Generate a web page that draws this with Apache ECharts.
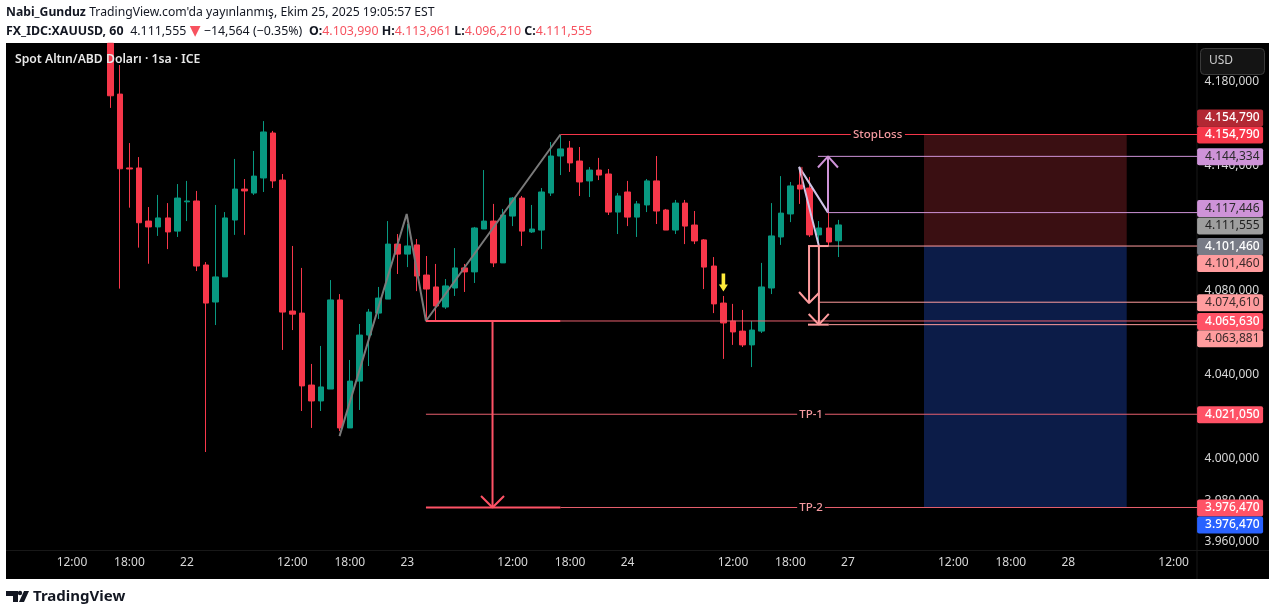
<!DOCTYPE html>
<html><head><meta charset="utf-8">
<style>html,body{margin:0;padding:0;background:#fff}#c{width:1275px;height:615px}</style>
<script src="https://cdn.jsdelivr.net/npm/echarts@6/dist/echarts.min.js"></script>
</head><body><div id="c"></div>
<script>
// ---- data (prices) ----
const leadingEmptyBars = 10;
const totalBars = 124;
const timeTickBars = [6,12,18,29,35,41,52,58,64,75,81,87,98,104,110,121];
const timeTickLabels = ['12:00','18:00','22','12:00','18:00','23','12:00','18:00','24','12:00','18:00','27','12:00','18:00','28','12:00'];
const priceTicks = [4180,4140,4080,4040,4000,3980,3960];
const opens = [4198.4,4174.1,4138.8,4138.8,4113.4,4110.6,4114.9,4108.6,4122.6,4123.0,4092.4,4074.7,4086.7,4113.9,4128.7,4126.8,4134.0,4155.5,4133.0,4070.4,4069.4,4035.0,4027.4,4033.1,4075.7,4014.5,4036.9,4058.9,4069.4,4076.1,4102.4,4097.6,4102.0,4087.6,4081.9,4072.3,4081.4,4091.0,4089.1,4109.6,4113.4,4093.4,4115.8,4124.4,4108.2,4109.1,4126.8,4144.5,4148.3,4142.1,4132.6,4137.8,4135.9,4117.7,4127.3,4115.3,4121.1,4132.6,4118.7,4109.1,4122.0,4111.5,4104.4,4091.9,4074.2,4065.6,4060.8,4054.2,4060.8,4081.4,4105.8,4116.8,4130.6,4129.2,4106.8,4110.1,4103.99];
const closes = [4173.3,4138.4,4138.3,4112.6,4110.6,4114.9,4108.2,4124.4,4123.0,4091.9,4074.2,4086.7,4114.9,4128.7,4127.8,4134.9,4156.0,4132.6,4069.9,4068.9,4034.6,4027.4,4034.1,4075.7,4014.5,4036.9,4058.9,4069.9,4076.6,4102.4,4097.6,4101.5,4087.1,4080.9,4072.8,4082.4,4091.0,4089.1,4110.1,4113.4,4093.4,4116.3,4124.4,4108.6,4109.6,4127.3,4144.5,4147.9,4141.2,4132.1,4137.8,4135.4,4117.7,4125.4,4115.3,4121.6,4132.6,4118.2,4109.1,4122.0,4111.0,4103.9,4091.4,4073.8,4064.7,4060.4,4054.2,4061.3,4081.9,4106.3,4117.2,4130.2,4128.7,4106.8,4110.1,4103.4,4111.555];
const lows = [4167.5,4081.1,4119.8,4100.7,4093.0,4106.3,4100.0,4105.8,4113.4,4089.5,4003.0,4063.7,4086.7,4106.8,4106.8,4125.9,4127.3,4129.2,4051.8,4061.3,4022.6,4014.5,4022.6,4033.1,4013.0,4014.5,4023.1,4044.1,4066.6,4076.1,4088.1,4091.4,4079.9,4065.1,4066.1,4071.4,4077.6,4079.5,4083.8,4109.6,4091.4,4093.4,4111.0,4101.5,4107.7,4100.0,4125.4,4135.4,4136.9,4125.4,4124.9,4133.0,4116.3,4107.2,4111.0,4105.8,4117.7,4112.0,4109.1,4107.2,4102.4,4102.4,4080.9,4069.4,4047.5,4054.2,4053.2,4043.6,4059.9,4078.5,4102.0,4112.9,4121.6,4105.8,4102.0,4101.5,4096.21];
const highs = [4198.4,4188.0,4150.7,4144.0,4120.1,4125.9,4122.0,4131.1,4132.6,4127.8,4093.8,4121.1,4117.7,4143.1,4133.5,4146.9,4161.2,4156.5,4135.9,4101.5,4091.0,4045.1,4053.7,4085.2,4078.5,4047.0,4064.2,4071.4,4081.9,4113.4,4107.2,4112.0,4104.8,4096.7,4092.9,4085.7,4100.5,4092.9,4110.6,4137.8,4121.6,4119.2,4124.9,4125.4,4121.1,4129.2,4151.2,4154.6,4151.7,4148.8,4139.2,4143.6,4138.3,4126.8,4132.6,4123.0,4133.5,4144.5,4119.2,4123.5,4123.5,4118.2,4104.8,4096.2,4077.6,4073.8,4070.9,4065.6,4093.4,4122.0,4134.9,4132.1,4139.2,4134.5,4113.4,4117.3,4113.96];

const stopLoss = 4154.79, tp1 = 4021.05, tp2 = 3976.47, entry = 4101.46;
const targetUp = 4144.334, levelUp = 4117.446, levelDown = 4074.61, breakLevel = 4065.63, targetDown = 4063.881;
const lastPrice = 4111.555;

// annotations: [bar position, price]
const zigzag = [[34.43,4010.6],[41.44,4116.8],[43.45,4065.63],[57.49,4154.79]];
const triangleA = [[84.47,4101.46],[82.4,4139.3],[85.42,4117.446]];
const triangleStem = [[82.7,4139.3],[82.7,4128.7]];
const tp2Arrow = [[50.4,4065.63],[50.4,3976.47]];
const tp2Head = [[49.2,3982.0],[50.4,3976.47],[51.6,3982.0]];
const upArrow = [[85.42,4117.446],[85.42,4144.334]];
const upHead = [[84.37,4139.0],[85.42,4144.334],[86.46,4139.0]];
const downArrowA = [[83.44,4101.46],[83.44,4074.2]];
const downHeadA = [[82.4,4079.5],[83.44,4074.2],[84.47,4079.0]];
const downArrowB = [[84.47,4101.46],[84.47,4064.2]];
const downHeadB = [[83.4,4069.0],[84.47,4063.881],[85.5,4069.0]];
const xBox1 = 95.44, xBox2 = 116.6, xEnd = 124;

const tagPrices = [stopLoss,stopLoss,targetUp,levelUp,lastPrice,entry,entry,levelDown,breakLevel,targetDown,tp1,tp2,tp2];
const tagShift  = [-16.5,0.5,0.5,-4,1,0.5,17.5,0.5,0.5,14,0.5,0.5,17.5];
const tagFill   = ['#B22833','#F7374A','#CE93D8','#CE93D8','#9E9E9E','#787B86','#FF9C9E','#FF9C9E','#FF5266','#FF9C9E','#FF5266','#FF5266','#2962FF'];
const tagInk    = ['#fff','#fff','#2a2a2a','#2a2a2a','#222','#fff','#3a2a2a','#3a2a2a','#fff','#3a2a2a','#fff','#fff','#fff'];

// ---- helpers ----
const fmt = v => { const s = v.toFixed(3).replace('.',','); return s[0]+'.'+s.slice(1); };
const categories = Array.from({length: totalBars}, (_,i)=>{ const j=timeTickBars.indexOf(i); return j>=0?timeTickLabels[j]:''; });
const candles = categories.map((_,i)=>{ const j=i-leadingEmptyBars; return (j>=0&&j<opens.length)?[opens[j],closes[j],lows[j],highs[j]]:['-','-','-','-']; });
const FONT = '"Noto Sans", sans-serif';
const seg = (pts,color,width) => ({type:'line',xAxisIndex:1,yAxisIndex:0,data:pts,showSymbol:false,symbol:'none',silent:true,animation:false,z:4,
  lineStyle:{color,width,cap:'butt'},clip:true});
const RED='#FF5266', THIN='#E8606E', PINK='#FF9C9E', PURPLE='#CE93D8', LAV='#CFC4E6', GREY='#7A7A7A';

const lines = [
 seg(zigzag,GREY,2),
 seg(triangleA,LAV,2), seg(triangleStem,'#F7374A',1),
 seg([[57.49,stopLoss],[87.8,stopLoss]],'#F7374A',1), seg([[93.45,stopLoss],[xEnd,stopLoss]],'#F7374A',1),
 seg([[43.45,breakLevel],[57.49,breakLevel]],RED,2), seg([[57.49,breakLevel],[xEnd,breakLevel]],THIN,1),
 seg([[43.45,tp1],[82.2,tp1]],THIN,1), seg([[85.1,tp1],[xEnd,tp1]],THIN,1),
 seg([[43.45,tp2],[57.49,tp2]],RED,2), seg([[57.49,tp2],[82.2,tp2]],THIN,1), seg([[85.1,tp2],[xEnd,tp2]],THIN,1),
 seg(tp2Arrow,RED,2), seg(tp2Head,RED,2),
 seg([[84.37,targetUp],[xEnd,targetUp]],PURPLE,1), seg([[85.42,levelUp],[xEnd,levelUp]],PURPLE,1),
 seg(upArrow,PURPLE,2), seg(upHead,PURPLE,2),
 seg([[83.33,entry],[85.5,entry]],PINK,2), seg([[85.5,entry],[xEnd,entry]],PINK,1),
 seg([[84.47,levelDown],[xEnd,levelDown]],PINK,1),
 seg([[83.33,targetDown],[85.5,targetDown]],PINK,2), seg([[85.5,targetDown],[xEnd,targetDown]],PINK,1),
 seg(downArrowA,PINK,2), seg(downHeadA,PINK,2), seg(downArrowB,PINK,2), seg(downHeadB,PINK,2)
];

const boxes = {type:'line',xAxisIndex:1,yAxisIndex:0,data:[],silent:true,animation:false,z:1,
  markArea:{silent:true,animation:false,data:[
    [{coord:[xBox1,stopLoss],itemStyle:{color:'#3A0F12',opacity:1}},{coord:[xBox2,entry]}],
    [{coord:[xBox1,entry],itemStyle:{color:'#0C1C48',opacity:1}},{coord:[xBox2,tp2]}]
  ]}};

const lineTexts = {type:'scatter',xAxisIndex:1,yAxisIndex:0,symbolSize:1,itemStyle:{color:'transparent',opacity:1},silent:true,animation:false,z:6,clip:false,
  data:[
   {value:[90.6,stopLoss],label:{formatter:'StopLoss',color:'#F59AA0'}},
   {value:[83.65,tp1],label:{formatter:'TP-1',color:'#F59AA0'}},
   {value:[83.65,tp2],label:{formatter:'TP-2',color:'#F59AA0'}}
  ],
  label:{show:true,position:'inside',fontFamily:FONT,fontSize:11.5,fontWeight:500}};

const yellowMark = {type:'scatter',xAxisIndex:1,yAxisIndex:0,silent:true,animation:false,z:6,
  symbol:'path://M3 0H7V11H10L5 18L0 11H3Z',symbolSize:[9,18],symbolKeepAspect:false,
  itemStyle:{color:'#FFEB3B',opacity:1},data:[[74.5,4084.0]]};

const tags = {type:'scatter',xAxisIndex:1,yAxisIndex:0,symbolSize:1,itemStyle:{color:'transparent',opacity:1},silent:true,animation:false,z:8,clip:false,
  data:tagPrices.map((p,i)=>({value:[xEnd,p],label:{
    show:true,position:'right',distance:-1,offset:[0,tagShift[i]],formatter:fmt(p),
    color:tagInk[i],backgroundColor:tagFill[i],width:58,height:17,lineHeight:17,padding:[0,0,0,8],borderRadius:2,
    fontFamily:FONT,fontSize:12,fontWeight:tagInk[i]==='#fff'?500:400,align:'left',verticalAlign:'middle'}}))};

const option = {
  animation:false, backgroundColor:'#fff',
  grid:{left:9.7,top:43,width:1187.9,height:507,containLabel:false},
  xAxis:[
   {type:'category',data:categories,boundaryGap:true,axisTick:{show:false},
    axisLine:{show:false},splitLine:{show:false},
    axisLabel:{interval:0,color:'#D8D8D8',fontFamily:FONT,fontSize:12,margin:7,hideOverlap:false}},
   {type:'value',min:0,max:totalBars,show:false}
  ],
  yAxis:[{type:'value',position:'right',min:3956.15,max:4198.53,scale:true,
    splitLine:{show:false},axisTick:{show:false},axisLine:{show:false},
    axisLabel:{color:'#D8D8D8',fontFamily:FONT,fontSize:12,margin:7,formatter:v=>fmt(v),customValues:priceTicks,showMinLabel:true,showMaxLabel:true}}],
  series:[
    boxes,
    {type:'candlestick',data:candles,barWidth:6,z:3,silent:true,animation:false,clip:true,
     itemStyle:{color:'#089981',color0:'#F7374A',borderColor:'#089981',borderColor0:'#F7374A',borderWidth:1}},
    ...lines, lineTexts, yellowMark, tags
  ],
  graphic:[
   {type:'rect',z:-10,silent:true,shape:{x:6,y:43,width:1263,height:536},style:{fill:'#000'}},
   {type:'rect',z:-9,silent:true,shape:{x:1196.5,y:43,width:1,height:536},style:{fill:'#181818'}},
   {type:'rect',z:-9,silent:true,shape:{x:6,y:550,width:1263,height:1},style:{fill:'#181818'}},
   {type:'text',z:100,silent:true,x:15,y:54,style:{text:'Spot Altın/ABD Doları · 1sa · ICE',fill:'#E8E8E8',font:'600 12.2px "Noto Sans"'}},
   {type:'rect',z:100,silent:true,shape:{x:1200.5,y:48.5,width:64,height:26,r:4},style:{fill:'#141414',stroke:'#3A3A3A',lineWidth:1}},
   {type:'text',z:101,silent:true,x:1209,y:55,style:{text:'USD',fill:'#CCCCCC',font:'12px "Noto Sans"'}},
   {type:'text',z:100,silent:true,x:6,y:7,style:{
     text:"{b|Nabi_Gunduz} {n|TradingView.com'da yayınlanmış, Ekim 25, 2025 19:05:57 EST}",
     rich:{b:{font:'700 12.2px "Noto Sans"',fill:'#131722'},n:{font:'12.2px "Noto Sans"',fill:'#131722'}}}},
   {type:'text',z:100,silent:true,x:6,y:24,style:{
     text:"{b|FX_IDC:XAUUSD, 60}  {n|"+fmt(lastPrice)+"} {t|▼} {n|−14,564 (−0.35%)}  {b|O:}{r|4.103,990} {b|H:}{r|4.113,961} {b|L:}{r|4.096,210} {b|C:}{r|4.111,555}",
     rich:{b:{font:'700 12.4px "Noto Sans"',fill:'#131722'},n:{font:'12.4px "Noto Sans"',fill:'#131722'},r:{font:'12.4px "Noto Sans"',fill:'#F7525F'},t:{font:'14px "DejaVu Sans"',fill:'#F7525F'}}}},
   {type:'polygon',z:100,silent:true,shape:{points:[[6,591],[18,591],[18,602],[13,602],[13,596],[6,596]]},style:{fill:'#131722'}},
   {type:'polygon',z:100,silent:true,shape:{points:[[19,602],[24,591],[29,591],[24,602]]},style:{fill:'#131722'}},
   {type:'circle',z:100,silent:true,shape:{cx:20,cy:593,r:2.2},style:{fill:'#131722'}},
   {type:'text',z:100,silent:true,x:33,y:589,style:{text:'TradingView',fill:'#131722',font:'700 15px "Noto Sans"'}}
  ]
};
const chart = echarts.init(document.getElementById('c'),null,{width:1275,height:615});
chart.setOption(option);
</script></body></html>
